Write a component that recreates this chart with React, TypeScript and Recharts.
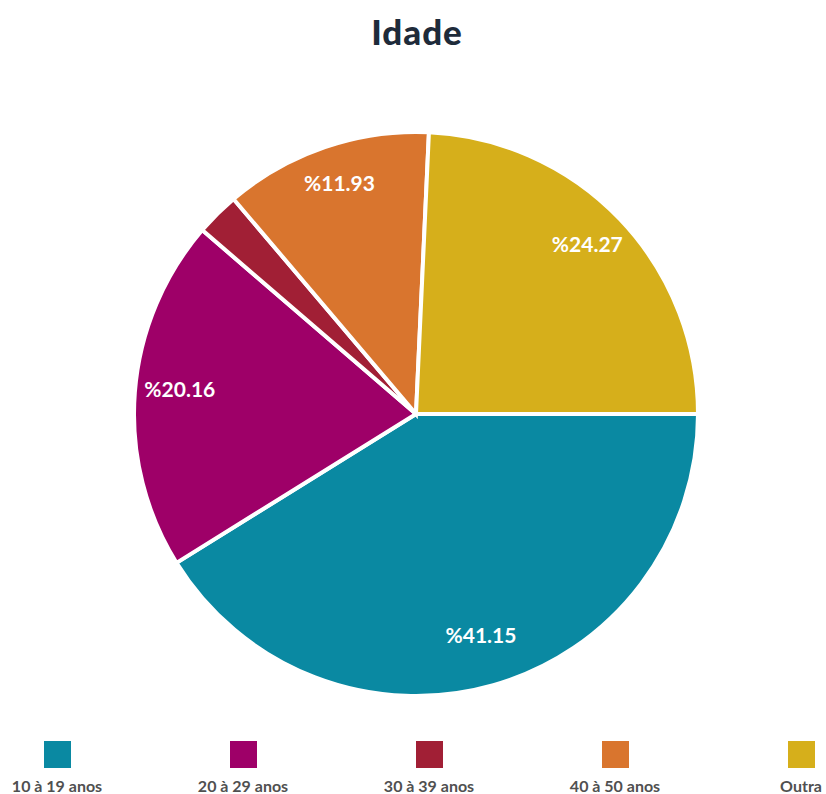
import React from 'react';
import { PieChart, Pie, Cell, Legend } from 'recharts';

const categories = ['10 à 19 anos', '20 à 29 anos', '30 à 39 anos', '40 à 50 anos', 'Outra'];
const shares = [41.15, 20.16, 2.49, 11.93, 24.27];
const labels = ['%41.15', '%20.16', '', '%11.93', '%24.27'];
const colors = ['#0A89A2', '#9E0068', '#A11F35', '#D9752E', '#D6AF1B'];

const data = categories.map((name, i) => ({ name, value: shares[i], label: labels[i] }));

const RAD = Math.PI / 180;

const renderLabel = (props: any) => {
  const { cx, cy, midAngle, outerRadius, index } = props;
  const text = labels[index];
  if (!text) return null;
  const r = outerRadius * 0.84;
  const x = cx + r * Math.cos(-midAngle * RAD);
  const y = cy + r * Math.sin(-midAngle * RAD) - 7;
  return (
    <text
      x={x}
      y={y}
      fill="#ffffff"
      textAnchor="middle"
      dominantBaseline="central"
      fontFamily="Lato, 'Open Sans', sans-serif"
      fontWeight={700}
      fontSize={21}
    >
      {text}
    </text>
  );
};

const renderLegend = () => (
  <div style={{ position: 'relative', width: 826, height: 53 }}>
    {categories.map((name, i) => {
      const center = 57 + i * 186;
      return (
        <div
          key={name}
          style={{
            position: 'absolute',
            left: center - 90,
            width: 180,
            top: 0,
            textAlign: 'center',
          }}
        >
          <div
            style={{
              width: 27,
              height: 27,
              margin: '0 auto',
              background: colors[i],
            }}
          />
          <div
            style={{
              marginTop: 10,
              fontFamily: "Lato, 'Open Sans', sans-serif",
              fontWeight: 700,
              fontSize: 16,
              color: '#505050',
              whiteSpace: 'nowrap',
              lineHeight: '16px',
            }}
          >
            {name}
          </div>
        </div>
      );
    })}
  </div>
);

export default function App() {
  return (
    <div
      style={{
        position: 'absolute',
        left: 0,
        top: 0,
        width: 826,
        height: 794,
        background: '#ffffff',
        overflow: 'hidden',
      }}
    >
      <div
        style={{
          position: 'absolute',
          top: 10,
          left: 0,
          width: 834,
          textAlign: 'center',
          fontFamily: "Lato, 'Open Sans', sans-serif",
          fontWeight: 900,
          fontSize: 35,
          letterSpacing: 1,
          color: '#1E2B3A',
          zIndex: 2,
        }}
      >
        Idade
      </div>
      <PieChart width={826} height={794} margin={{ top: 0, right: 0, bottom: 0, left: 0 }}>
        <Pie
          data={data}
          dataKey="value"
          nameKey="name"
          cx={416}
          cy={414}
          outerRadius={282}
          startAngle={0}
          endAngle={-360}
          stroke="#ffffff"
          strokeWidth={4}
          label={renderLabel}
          labelLine={false}
          isAnimationActive={false}
        >
          {data.map((d, i) => (
            <Cell key={d.name} fill={colors[i]} />
          ))}
        </Pie>
        <Legend
          content={renderLegend}
          wrapperStyle={{ position: 'absolute', left: 0, top: 741, width: 826 }}
        />
      </PieChart>
    </div>
  );
}
